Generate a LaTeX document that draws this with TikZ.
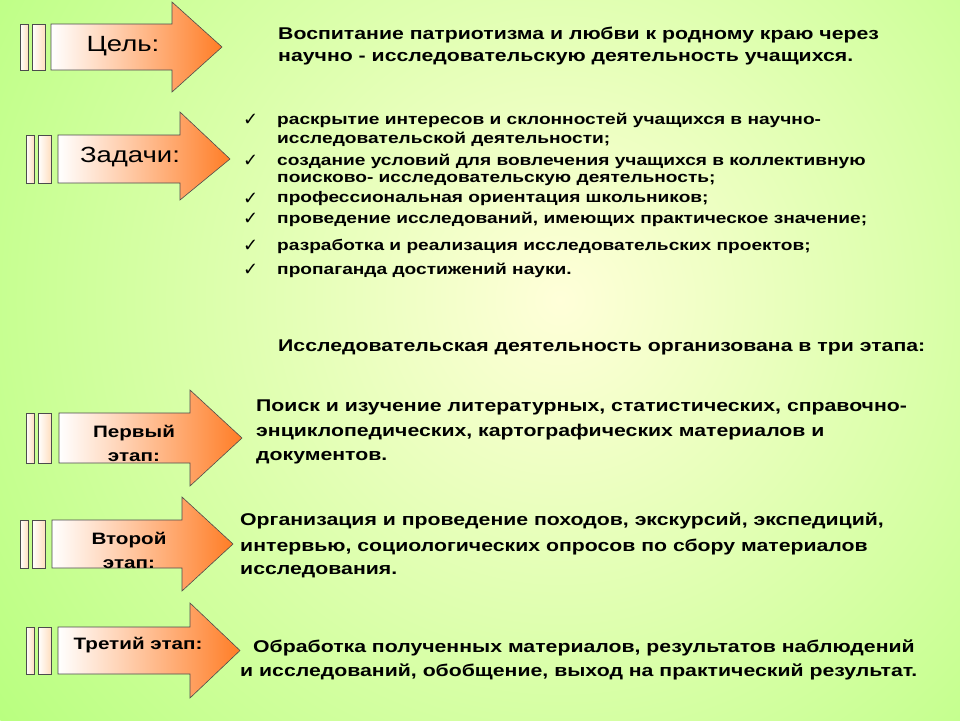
\documentclass[tikz,border=0pt]{standalone}
\usepackage{fontspec}
\setmainfont{Liberation Sans}
\newfontfamily\wide[FakeStretch=1.25]{Liberation Sans}
\newfontfamily\dv{DejaVu Sans}
\begin{document}
\begin{tikzpicture}[x=1pt,y=-1pt,
  bar/.style={draw=black!70,line width=0.6pt,left color=white,right color=orange!25},
  arr/.style={draw=black!70,line width=0.6pt,left color=white,middle color=orange!12,right color=orange!80!red!85},
  txt/.style={anchor=west,font=\wide\bfseries\fontsize{17}{20}\selectfont,inner sep=0},
  tsk/.style={anchor=west,font=\wide\bfseries\fontsize{15.3}{17}\selectfont,inner sep=0},
  chk/.style={anchor=west,font=\dv\bfseries\fontsize{18}{19}\selectfont,inner sep=0}]
\useasboundingbox (0,0) rectangle (960,720);
\fill[green!40!lime!50!white] (0,0) rectangle (960,720);
\shade[inner color=white!85!yellow,outer color=green!40!lime!50!white] (560,300) circle (700);
\newcommand\myarrow[9]{%
  \fill[bar] (#1,#5) rectangle ++(8,{#6-#5});
  \fill[bar] ({#1+12},#5) rectangle ++(13,{#6-#5});
  \draw[arr] (#3,#5) -- (#4,#5) -- (#4,#8) -- (#7,{(#5+#6)/2}) -- (#4,#9) -- (#4,#6) -- (#3,#6) -- cycle;}
\myarrow{20}{}{51}{172}{24}{70}{222}{2}{92}
\myarrow{26}{}{58}{180}{135}{183}{230}{112}{200}
\myarrow{26}{}{59}{190}{413}{463}{242}{390}{486}
\myarrow{20}{}{52}{182}{520}{568}{233}{497}{591}
\myarrow{26}{}{58}{190}{627}{674}{240}{603}{698}
\node[font=\wide\fontsize{22}{24}\selectfont] (l1) at (123,46) {Цель:};
\node[font=\wide\fontsize{22}{24}\selectfont] (l2) at (130,157) {Задачи:};
\node[font=\wide\bfseries\fontsize{16.5}{24}\selectfont,align=center] (l3) at (134,443) {Первый\\этап:};
\node[font=\wide\bfseries\fontsize{16.5}{24}\selectfont,align=center] (l4) at (129,550) {Второй\\этап:};
\node[font=\wide\bfseries\fontsize{16.5}{18}\selectfont] (l5) at (138,645) {Третий этап:};
\node[txt] (g1) at (278,35) {Воспитание патриотизма и любви к родному краю через};
\node[txt] (g2) at (278,59) {научно - исследовательскую деятельность учащихся.};
\foreach \y in {120,161,199,219,246,270} \node[chk] at (243,\y) {✓};
\node[tsk] (t1) at (277,120) {раскрытие интересов и склонностей учащихся в научно-};
\node[tsk] (t2) at (277,139) {исследовательской деятельности;};
\node[tsk] (t3) at (277,161) {создание условий для вовлечения учащихся в коллективную};
\node[tsk] (t4) at (277,180) {поисково- исследовательскую деятельность;};
\node[tsk] (t5) at (277,199) {профессиональная ориентация школьников;};
\node[tsk] (t6) at (277,219) {проведение исследований, имеющих практическое значение;};
\node[tsk] (t7) at (277,246) {разработка и реализация исследовательских проектов;};
\node[tsk] (t8) at (277,270) {пропаганда достижений науки.};
\node[txt] (h) at (278,347) {Исследовательская деятельность организована в три этапа:};
\node[txt] (s1a) at (256,407) {Поиск и изучение литературных, статистических, справочно-};
\node[txt] (s1b) at (256,432) {энциклопедических, картографических материалов и};
\node[txt] (s1c) at (256,458) {документов.};
\node[txt] (s2a) at (240,521) {Организация и проведение походов, экскурсий, экспедиций,};
\node[txt] (s2b) at (240,547) {интервью, социологических опросов по сбору материалов};
\node[txt] (s2c) at (240,572) {исследования.};
\node[txt] (s3a) at (253,648) {Обработка полученных материалов, результатов наблюдений};
\node[txt] (s3b) at (240,672) {и исследований, обобщение, выход на практический результат.};
\end{tikzpicture}
\end{document}
